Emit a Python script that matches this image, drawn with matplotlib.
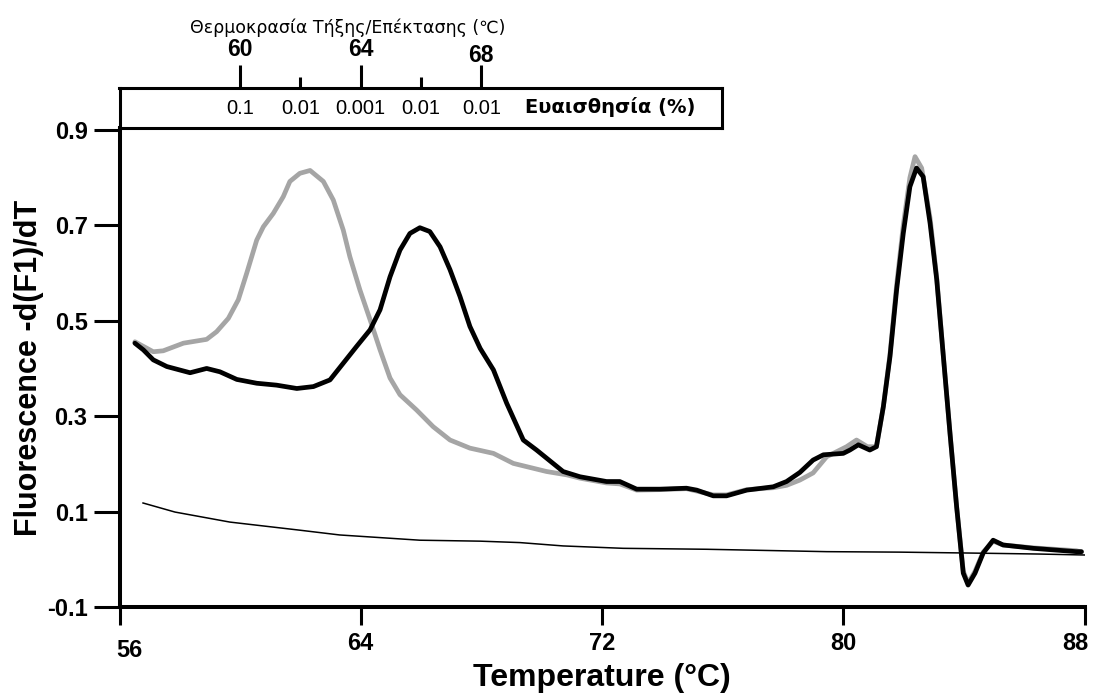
import matplotlib
matplotlib.use("Agg")
import matplotlib.pyplot as plt
import matplotlib.transforms as mtransforms

plt.rcParams['font.family'] = ['Liberation Sans', 'DejaVu Sans']
plt.rcParams['axes.unicode_minus'] = False

# grey curve (with template)
grey_t = [56.51, 57.12, 57.45, 58.12, 58.89, 59.22, 59.61, 59.94, 60.22, 60.55,
          60.77, 61.10, 61.43, 61.65, 61.98, 62.32, 62.76, 63.09, 63.42, 63.64,
          63.97, 64.31, 64.64, 64.97, 65.30, 65.85, 66.40, 66.96, 67.62, 68.40,
          69.06, 70.16, 70.83, 71.27, 72.15, 72.59, 73.15, 73.92, 74.80, 75.14,
          75.69, 76.13, 76.80, 77.68, 78.12, 78.56, 79.00, 79.45, 80.11, 80.44,
          80.80, 81.10, 81.33, 81.55, 81.77, 81.99, 82.21, 82.38, 82.60, 82.88,
          83.10, 83.32, 83.54, 83.76, 83.98, 84.14, 84.37, 84.64, 84.97, 85.30,
          86.30, 87.73, 87.90]
grey_v = [0.456, 0.435, 0.437, 0.453, 0.461, 0.477, 0.505, 0.544, 0.600, 0.669,
          0.697, 0.725, 0.760, 0.792, 0.809, 0.815, 0.792, 0.753, 0.690, 0.634,
          0.565, 0.502, 0.439, 0.380, 0.345, 0.313, 0.278, 0.250, 0.233, 0.222,
          0.201, 0.184, 0.177, 0.170, 0.160, 0.158, 0.145, 0.146, 0.148, 0.143,
          0.135, 0.135, 0.146, 0.150, 0.155, 0.166, 0.181, 0.215, 0.236, 0.250,
          0.236, 0.236, 0.320, 0.430, 0.575, 0.700, 0.800, 0.844, 0.820, 0.715,
          0.590, 0.425, 0.264, 0.110, -0.025, -0.050, -0.025, 0.015, 0.038, 0.030,
          0.024, 0.018, 0.015]

# black curve
black_t = [56.51, 56.79, 57.12, 57.57, 58.34, 58.89, 59.33, 59.89, 60.55, 61.21,
           61.88, 62.43, 62.98, 63.42, 63.86, 64.31, 64.64, 64.97, 65.30, 65.63,
           65.96, 66.29, 66.63, 66.96, 67.29, 67.62, 67.96, 68.40, 68.84, 69.39,
           69.83, 70.71, 71.27, 72.15, 72.59, 73.15, 73.92, 74.80, 75.14, 75.69,
           76.13, 76.80, 77.68, 78.12, 78.56, 79.00, 79.34, 80.00, 80.22, 80.50,
           80.88, 81.10, 81.33, 81.55, 81.77, 81.99, 82.21, 82.43, 82.65, 82.88,
           83.10, 83.32, 83.54, 83.76, 83.98, 84.14, 84.37, 84.64, 84.97, 85.30,
           86.30, 87.73, 87.90]
black_v = [0.453, 0.439, 0.418, 0.404, 0.391, 0.400, 0.393, 0.377, 0.369, 0.365,
           0.358, 0.362, 0.376, 0.411, 0.446, 0.481, 0.523, 0.592, 0.648, 0.683,
           0.695, 0.687, 0.655, 0.607, 0.551, 0.488, 0.442, 0.397, 0.327, 0.250,
           0.229, 0.184, 0.173, 0.163, 0.163, 0.147, 0.147, 0.149, 0.145, 0.133,
           0.133, 0.145, 0.152, 0.163, 0.182, 0.208, 0.219, 0.222, 0.229, 0.240,
           0.229, 0.236, 0.320, 0.425, 0.565, 0.683, 0.781, 0.820, 0.802, 0.704,
           0.586, 0.425, 0.264, 0.110, -0.029, -0.054, -0.029, 0.013, 0.040, 0.030,
           0.023, 0.016, 0.016]

# thin line (no template control)
ntc_t = [56.78, 57.84, 59.66, 61.98, 63.30, 65.96, 67.96, 69.28, 70.71, 72.70,
         75.47, 79.45, 81.88, 84.30, 86.50, 88.00]
ntc_v = [0.118, 0.099, 0.078, 0.061, 0.051, 0.040, 0.038, 0.035, 0.028, 0.023,
         0.021, 0.016, 0.015, 0.013, 0.011, 0.009]

x_ticks = [56, 64, 72, 80, 88]
y_ticks = [-0.1, 0.1, 0.3, 0.5, 0.7, 0.9]
top_major = [60, 64, 68]
top_minor = [62, 66]
sens_pos = [60, 62, 64, 66, 68]
sens_labels = ['0.1', '0.01', '0.001', '0.01', '0.01']

W, H = 1097, 697
fig = plt.figure(figsize=(W / 100, H / 100), dpi=100)
ax = fig.add_axes([119.5 / W, 90 / H, 965 / W, 479 / H])

ax.plot(grey_t, grey_v, color='#a5a5a5', lw=3.4, solid_joinstyle='round', solid_capstyle='round')
ax.plot(black_t, black_v, color='black', lw=3.4, solid_joinstyle='round', solid_capstyle='round')
ax.plot(ntc_t, ntc_v, color='black', lw=1.1)

ax.set_xlim(56, 88)
ax.set_ylim(-0.1, 0.904)
for s in ['top', 'right']:
    ax.spines[s].set_visible(False)
for s in ['left', 'bottom']:
    ax.spines[s].set_linewidth(2.9)
ax.set_xticks(x_ticks)
ax.set_xticklabels([str(t) for t in x_ticks], fontsize=17, fontweight='bold')
ax.set_yticks(y_ticks)
ax.set_yticklabels([f'{v:.1f}' for v in y_ticks], fontsize=17, fontweight='bold')
ax.tick_params(axis='x', length=13, width=2.2, pad=5, color='black')
ax.tick_params(axis='y', length=19, width=2.2, pad=4, color='black')

# 56 and 88 labels sit a bit inward in the original
off = lambda dx, dy: mtransforms.ScaledTranslation(dx / 100, dy / 100, fig.dpi_scale_trans)
xl = ax.get_xticklabels()
xl[0].set_transform(xl[0].get_transform() + off(10, -7))
xl[-1].set_transform(xl[-1].get_transform() + off(-9, 0))

ax.set_xlabel('Temperature (°C)', fontsize=23, fontweight='bold', labelpad=1)
ax.set_ylabel('Fluorescence -d(F1)/dT', fontsize=22, fontweight='bold', labelpad=2)

# top box: annealing/extension temperature and sensitivity
bx = fig.add_axes([119.5 / W, 569 / H, 603 / W, 40 / H])
bx.set_xlim(56, 76)
bx.set_ylim(0, 1)
for s in bx.spines.values():
    s.set_linewidth(2.2)
bx.set_yticks([])
bx.xaxis.set_ticks_position('top')
bx.set_xticks(top_major)
bx.set_xticks(top_minor, minor=True)
bx.set_xticklabels([str(t) for t in top_major], fontsize=16.5, fontweight='bold')
bx.tick_params(axis='x', which='major', direction='out', length=16.5, width=2.2, pad=3)
bx.tick_params(axis='x', which='minor', direction='out', length=8, width=2.2)
tl = bx.get_xticklabels()
tl[-1].set_transform(tl[-1].get_transform() + off(0, -6))

for p, lab in zip(sens_pos, sens_labels):
    bx.text(p, 0.48, lab, ha='center', va='center', fontsize=14.5)
bx.text(69.45, 0.52, 'Ευαισθησία (%)', ha='left', va='center', fontsize=14,
        fontweight='bold', family=['DejaVu Sans'])
trans = mtransforms.blended_transform_factory(bx.transData, bx.transAxes)
bx.text(63.58, 2.5, 'Θερμοκρασία Τήξης/Επέκτασης (℃)', transform=trans,
        ha='center', va='center', fontsize=12.5, family=['DejaVu Sans'])

fig.savefig('out.png', dpi=100)
